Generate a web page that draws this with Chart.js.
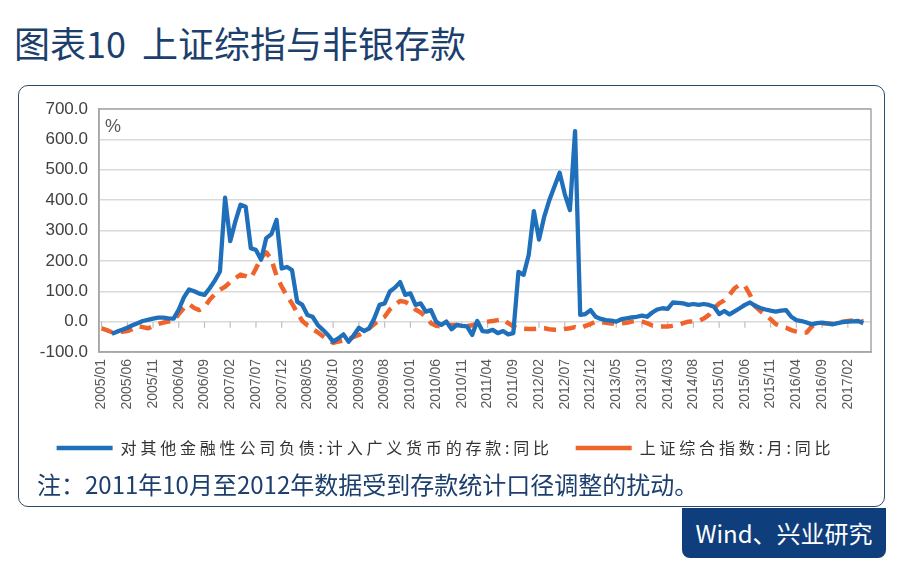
<!DOCTYPE html>
<html>
<head>
<meta charset="utf-8">
<script src="https://cdn.jsdelivr.net/npm/chart.js@4.4.0/dist/chart.umd.min.js"></script>
<style>
  body { margin: 0; width: 905px; height: 570px; background: #fff; position: relative; overflow: hidden;
         font-family: "Noto Sans CJK SC", sans-serif; }
  #title { position: absolute; left: 14px; top: 19px; font-size: 36px; line-height: 46px; color: #1c3f6e; white-space: pre; }
  #box { position: absolute; left: 18px; top: 85px; width: 865px; height: 420px; border: 1.5px solid #2b4d6b; border-radius: 10px; }
  #wrap { position: absolute; left: 20px; top: 95px; width: 860px; height: 372px; }
  #note { position: absolute; left: 37px; top: 468px; font-size: 24px; line-height: 32px; color: #1c3f6e; }
  #src { position: absolute; left: 682px; top: 508px; width: 204px; height: 50px; background: #0e3e7c; color: #fff;
         font-size: 24px; line-height: 50px; text-align: center; border-radius: 0 0 8px 8px; }
</style>
</head>
<body>
<div id="title">图表10  上证综指与非银存款</div>
<div id="box"></div>
<div id="wrap"><canvas id="chart"></canvas></div>
<div id="note">注：2011年10月至2012年数据受到存款统计口径调整的扰动。</div>
<div id="src">Wind、兴业研究</div>

<script>
// Monthly categories 2005/01 .. 2017/06
const months = [];
for (let y = 2005; y <= 2017; y++) {
    for (let m = 1; m <= 12; m++) {
        if (y === 2017 && m > 6) break;
        months.push(y + '/' + String(m).padStart(2, '0'));
    }
}

const depositLabel = '对其他金融性公司负债:计入广义货币的存款:同比';
const indexLabel = '上证综合指数:月:同比';

// 对其他金融性公司负债:计入广义货币的存款:同比 (%)
const depositYoY = [
    null, null, -40, -33, -27, -20, -12, -5, 2, 6,
    10, 13, 13, 11, 10, 40, 80, 106, 100, 92,
    88, 110, 135, 165, 408, 265, 330, 385, 378, 242,
    236, 204, 275, 288, 335, 175, 180, 170, 66, 55,
    22, 16, -11, -27, -44, -66, -55, -42, -66, -45,
    -20, -31, -22, 11, 55, 60, 99, 112, 130, 88,
    93, 55, 60, 33, 38, 0, -11, 0, -25, -11,
    -14, -16, -44, 2, -31, -33, -27, -38, -31, -42,
    -38, 164, 154, 220, 364, 270, 345, 400, 445, 490,
    420, 367, 627, 22, 25, 38, 16, 9, 5, 3,
    0, 8, 11, 14, 16, 20, 16, 30, 40, 44,
    42, 63, 62, 60, 55, 58, 55, 58, 55, 49,
    25, 35, 24, 34, 44, 55, 63, 52, 45, 40,
    36, 33, 36, 38, 16, 5, 2, -3, -9, -5,
    -3, -6, -9, -5, -2, 0, 1, 2, -5, null
];

// 上证综合指数:月:同比 (%)
const sseYoY = [
    -22, -28, -35, -34, -33, -31, -25, -15, -18, -22,
    -15, -8, -3, 0, 2, 25, 45, 58, 45, 38,
    48, 72, 90, 105, 115, 130, 143, 155, 150, 143,
    175, 210, 228, 205, 150, 115, 85, 60, 30, 2,
    -12, -25, -35, -48, -60, -70, -66, -62, -58, -50,
    -44, -35, -22, -8, 5, 16, 40, 55, 68, 65,
    55, 40, 30, 15, -5, -14, -16, -12, -11, -11,
    -12, -15, -12, -6, -2, 0, 2, 5, 8, -5,
    -16, -22, -23, -24, -24, -23, -22, -25, -27, -27,
    -24, -22, -18, -22, -14, -8, 0, -2, -4, -6,
    -7, -6, -4, 0, 2, 0, -5, -13, -16, -16,
    -16, -14, -11, -5, 0, 1, 2, 10, 22, 44,
    60, 70, 88, 110, 122, 118, 88, 50, 35, 22,
    8, -8, -15, -20, -28, -33, -37, -36, -16, -8,
    -5, -6, -7, -3, 0, 2, 4, 5, 0, null
];

const yTicks = [-100, 0, 100, 200, 300, 400, 500, 600, 700];
const labelEvery = 5;

Chart.defaults.font.family = '"Liberation Sans", Arial, sans-serif';

// plot frame, small tick marks on the zero line, and the "%" unit label
const plotDecor = {
    id: 'plotDecor',
    beforeUpdate(chart) {
        // spaced-out legend text like the original
        const lg = chart.legend;
        if (lg && !lg._spaced) {
            lg._spaced = true;
            ['fit', 'draw'].forEach(fn => {
                const orig = lg[fn];
                lg[fn] = function () {
                    const c = this.ctx;
                    const prev = c.letterSpacing;
                    c.letterSpacing = '3.8px';
                    const r = orig.apply(this, arguments);
                    c.letterSpacing = prev || '0px';
                    return r;
                };
            });
        }
    },
    beforeDatasetsDraw(chart) {
        const ctx = chart.ctx;
        const area = chart.chartArea;
        const xs = chart.scales.x;
        const ys = chart.scales.y;
        const y0 = ys.getPixelForValue(0);
        ctx.save();
        ctx.strokeStyle = '#bfbfbf';
        ctx.lineWidth = 1.2;
        ctx.beginPath();
        for (let i = 0; i < months.length; i += labelEvery) {
            const x = xs.getPixelForValue(i);
            ctx.moveTo(x, y0);
            ctx.lineTo(x, y0 + 6);
        }
        ctx.stroke();
        ctx.strokeStyle = '#a6a6a6';
        ctx.lineWidth = 1.5;
        ctx.strokeRect(area.left, area.top, area.right - area.left, area.bottom - area.top);
        ctx.fillStyle = '#595959';
        ctx.font = '18px "Liberation Sans", Arial, sans-serif';
        ctx.textBaseline = 'middle';
        ctx.fillText('%', area.left + 6, area.top + 18);
        ctx.restore();
    }
};

const ctx = document.getElementById('chart').getContext('2d');
new Chart(ctx, {
    type: 'line',
    data: {
        labels: months,
        datasets: [
            {
                label: depositLabel,
                data: depositYoY,
                borderColor: '#1f6fba',
                backgroundColor: '#1f6fba',
                borderWidth: 4.3,
                borderJoinStyle: 'round',
                pointRadius: 0,
                tension: 0,
                fill: false
            },
            {
                label: indexLabel,
                data: sseYoY,
                borderColor: '#f0642b',
                backgroundColor: '#f0642b',
                borderWidth: 4.5,
                borderDash: [12, 8],
                borderJoinStyle: 'round',
                pointRadius: 0,
                tension: 0,
                fill: false
            }
        ]
    },
    options: {
        responsive: true,
        maintainAspectRatio: false,
        animation: false,
        layout: { padding: { top: 14, right: 9, bottom: 1, left: 0 } },
        plugins: {
            tooltip: { enabled: false },
            legend: {
                position: 'bottom',
                labels: {
                    usePointStyle: true,
                    pointStyle: 'line',
                    pointStyleWidth: 56,
                    boxHeight: 16,
                    padding: 8,
                    color: '#333333',
                    font: { family: '"Noto Sans CJK SC", sans-serif', size: 16 },
                    generateLabels: chart => {
                        const items = Chart.defaults.plugins.legend.labels.generateLabels(chart);
                        // wider gap after the first entry
                        items[0].text = items[0].text + '  ';
                        return items;
                    }
                }
            }
        },
        scales: {
            x: {
                offset: true,
                grid: { display: false, drawTicks: false },
                border: { display: true, color: '#a6a6a6', width: 1.5 },
                ticks: {
                    autoSkip: false,
                    minRotation: 90,
                    maxRotation: 90,
                    padding: 7,
                    color: '#595959',
                    font: { size: 14 },
                    callback: (v, i) => (i % labelEvery === 0 ? months[i] : '')
                },
                afterFit: s => { s.height = 80; s.paddingLeft = 0; s.paddingRight = 0; }
            },
            y: {
                min: yTicks[0],
                max: yTicks[yTicks.length - 1],
                afterBuildTicks: s => { s.ticks = yTicks.map(v => ({ value: v })); },
                grid: { color: '#d9d9d9', lineWidth: 1.5, drawTicks: false },
                border: { display: true, color: '#a6a6a6', width: 1.5 },
                ticks: {
                    padding: 11,
                    color: '#404040',
                    font: { size: 17 },
                    callback: v => Number(v).toFixed(1)
                },
                afterFit: s => { s.width = 79; s.paddingTop = 0; s.paddingBottom = 0; }
            }
        }
    },
    plugins: [plotDecor]
});
</script>
</body>
</html>
